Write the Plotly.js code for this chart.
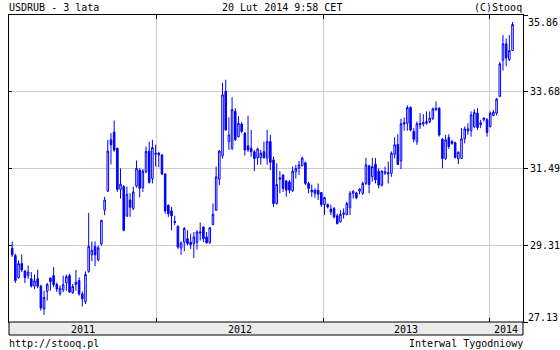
<!DOCTYPE html>
<html>
<head>
<meta charset="utf-8">
<script src="https://cdn.plot.ly/plotly-3.0.1.min.js"></script>
<style>html,body{margin:0;padding:0;background:#fff;}#chart{width:560px;height:350px;}</style>
</head>
<body>
<div id="chart"></div>
<script>
// Weekly candles (Friday of each week), USDRUB, Feb 2011 - Feb 2014
const weeks = [
"2011-02-18","2011-02-25","2011-03-04","2011-03-11","2011-03-18","2011-03-25","2011-04-01","2011-04-08","2011-04-15","2011-04-22",
"2011-04-29","2011-05-06","2011-05-13","2011-05-20","2011-05-27","2011-06-03","2011-06-10","2011-06-17","2011-06-24","2011-07-01",
"2011-07-08","2011-07-15","2011-07-22","2011-07-29","2011-08-05","2011-08-12","2011-08-19","2011-08-26","2011-09-02","2011-09-09",
"2011-09-16","2011-09-23","2011-09-30","2011-10-07","2011-10-14","2011-10-21","2011-10-28","2011-11-04","2011-11-11","2011-11-18",
"2011-11-25","2011-12-02","2011-12-09","2011-12-16","2011-12-23","2011-12-30","2012-01-06","2012-01-13","2012-01-20","2012-01-27",
"2012-02-03","2012-02-10","2012-02-17","2012-02-24","2012-03-02","2012-03-09","2012-03-16","2012-03-23","2012-03-30","2012-04-06",
"2012-04-13","2012-04-20","2012-04-27","2012-05-04","2012-05-11","2012-05-18","2012-05-25","2012-06-01","2012-06-08","2012-06-15",
"2012-06-22","2012-06-29","2012-07-06","2012-07-13","2012-07-20","2012-07-27","2012-08-03","2012-08-10","2012-08-17","2012-08-24",
"2012-08-31","2012-09-07","2012-09-14","2012-09-21","2012-09-28","2012-10-05","2012-10-12","2012-10-19","2012-10-26","2012-11-02",
"2012-11-09","2012-11-16","2012-11-23","2012-11-30","2012-12-07","2012-12-14","2012-12-21","2012-12-28","2013-01-04","2013-01-11",
"2013-01-18","2013-01-25","2013-02-01","2013-02-08","2013-02-15","2013-02-22","2013-03-01","2013-03-08","2013-03-15","2013-03-22",
"2013-03-29","2013-04-05","2013-04-12","2013-04-19","2013-04-26","2013-05-03","2013-05-10","2013-05-17","2013-05-24","2013-05-31",
"2013-06-07","2013-06-14","2013-06-21","2013-06-28","2013-07-05","2013-07-12","2013-07-19","2013-07-26","2013-08-02","2013-08-09",
"2013-08-16","2013-08-23","2013-08-30","2013-09-06","2013-09-13","2013-09-20","2013-09-27","2013-10-04","2013-10-11","2013-10-18",
"2013-10-25","2013-11-01","2013-11-08","2013-11-15","2013-11-22","2013-11-29","2013-12-06","2013-12-13","2013-12-20","2013-12-27",
"2014-01-03","2014-01-10","2014-01-17","2014-01-24","2014-01-31","2014-02-07","2014-02-14","2014-02-21"
];

const openVals = [
29.23,29.02,28.39,28.79,28.58,28.45,28.36,28.15,28.36,28.15,
27.50,28.00,28.38,28.45,28.20,27.93,28.05,28.24,28.45,27.96,
28.26,28.31,27.93,27.71,28.57,29.04,29.28,28.90,29.35,30.31,
30.85,32.31,32.53,32.07,30.90,30.98,30.14,30.60,30.36,31.00,
31.45,30.95,31.40,31.99,31.21,31.90,31.93,31.88,31.34,30.45,
30.29,29.99,29.85,29.23,29.40,29.50,29.40,29.36,29.40,29.66,
29.83,29.55,29.38,29.90,30.31,31.19,31.86,33.69,32.26,32.07,
33.12,32.40,32.76,32.50,32.14,32.07,31.97,31.80,31.80,31.97,
31.79,32.26,31.74,30.50,31.19,31.31,31.14,31.12,30.86,31.40,
31.50,31.58,31.66,31.07,30.88,30.88,30.88,30.81,30.47,30.47,
30.34,30.36,30.15,29.98,30.19,30.18,30.38,30.79,30.80,30.85,
30.79,31.07,31.57,31.26,31.62,31.42,31.02,31.36,31.34,31.36,
31.90,32.18,31.71,32.80,32.78,33.23,32.55,32.26,32.78,32.76,
32.78,32.83,32.91,33.16,33.21,32.33,31.78,32.38,32.26,32.23,
31.77,31.78,32.34,32.62,32.57,32.69,33.07,32.74,32.88,32.88,
32.69,33.00,33.07,33.55,34.57,35.04,34.59,34.85
];
const highVals = [
29.42,29.07,28.88,29.05,28.61,28.74,28.55,28.48,28.62,28.19,
28.02,28.24,28.40,28.69,28.25,28.17,28.45,28.48,28.50,28.21,
28.61,28.40,28.00,28.57,30.23,29.42,29.42,29.30,30.04,30.69,
32.31,32.50,32.86,32.09,31.50,31.02,30.98,30.79,30.98,31.72,
31.50,31.48,32.12,32.26,32.31,32.17,31.96,31.90,31.36,30.47,
30.40,30.15,29.88,29.42,29.83,29.74,29.64,29.69,29.74,29.96,
29.85,29.69,29.83,30.50,31.55,32.02,33.93,34.02,32.95,33.52,
33.21,32.98,32.81,32.53,33.00,32.59,32.02,32.09,32.02,32.26,
32.59,32.45,31.83,31.64,31.42,31.33,31.17,31.17,31.55,31.60,
31.71,31.83,31.69,31.12,31.04,30.93,31.07,30.83,30.69,30.50,
30.47,30.40,30.21,30.31,30.36,30.55,30.85,30.87,30.83,30.93,
31.12,31.80,31.60,31.80,31.79,31.50,31.45,31.55,31.69,31.98,
32.38,32.47,32.91,32.95,33.29,33.26,32.64,32.83,33.07,33.04,
33.12,33.12,33.23,33.40,33.24,32.36,32.45,32.47,32.31,32.26,
31.98,32.64,32.69,32.78,33.12,33.18,33.21,32.88,32.95,32.93,
33.12,33.16,33.50,34.53,35.29,35.19,35.29,35.66
];
const lowVals = [
28.98,28.24,28.36,28.55,28.24,28.36,28.11,28.07,28.09,27.45,
27.33,27.74,28.02,28.12,27.98,27.88,27.98,28.02,27.96,27.93,
28.02,27.88,27.57,27.64,28.53,28.86,28.72,28.85,29.30,30.17,
30.83,31.61,31.97,30.83,30.64,29.71,30.12,30.12,30.31,30.95,
30.67,30.83,31.36,31.07,31.07,31.55,31.53,31.31,30.21,30.12,
29.74,29.88,29.21,29.04,29.14,29.31,29.21,28.95,29.19,29.45,
29.40,29.36,29.36,29.88,30.29,31.02,31.78,32.57,32.02,32.02,
32.28,32.38,32.50,31.86,31.97,31.83,31.42,31.60,31.60,31.78,
31.60,31.45,30.40,30.47,30.79,30.83,30.69,30.79,30.83,31.21,
31.31,31.55,31.02,30.79,30.69,30.66,30.60,30.40,30.17,30.36,
30.17,30.07,29.90,29.96,30.07,30.17,30.17,30.64,30.62,30.76,
30.74,31.02,30.79,31.12,31.07,30.93,30.98,31.31,31.07,31.26,
31.78,31.60,31.48,32.57,32.57,32.55,32.24,32.17,32.62,32.69,
32.74,32.78,32.88,33.14,32.40,31.50,31.74,32.05,32.17,31.78,
31.62,31.77,32.21,32.45,32.40,32.64,32.59,32.64,32.83,32.40,
32.66,32.98,33.00,33.52,34.28,34.40,34.55,34.85
];
const closeVals = [
29.04,28.31,28.79,28.61,28.39,28.55,28.15,28.30,28.15,27.53,
27.83,28.20,28.28,28.19,28.07,28.09,28.19,28.42,27.98,28.14,
28.20,27.93,27.79,28.48,29.28,29.17,29.04,29.24,30.02,30.60,
31.99,32.17,32.02,30.90,31.05,29.74,30.76,30.39,30.83,31.50,
30.93,31.42,31.98,31.10,32.09,31.93,31.88,31.34,30.29,30.21,
30.15,29.96,29.26,29.38,29.79,29.36,29.33,29.55,29.69,29.69,
29.50,29.38,29.81,30.19,31.26,31.99,33.59,32.59,32.45,33.17,
32.31,32.78,32.55,32.02,32.02,31.97,31.78,32.05,31.93,31.80,
32.26,31.67,30.50,31.04,31.23,30.93,30.88,30.88,31.42,31.50,
31.60,31.79,31.07,30.93,30.83,30.79,30.76,30.47,30.67,30.40,
30.26,30.12,29.93,30.19,30.23,30.50,30.79,30.85,30.66,30.91,
31.07,31.60,31.04,31.55,31.17,31.02,31.42,31.40,31.38,31.93,
32.17,31.61,32.77,32.76,33.23,32.59,32.33,32.77,32.74,32.80,
32.83,32.93,33.19,33.21,32.45,31.78,32.31,32.12,32.21,31.81,
31.96,32.34,32.62,32.57,33.02,33.09,32.66,32.80,32.93,32.52,
33.07,33.10,33.47,34.47,35.04,34.64,34.85,35.59
];

const yTickVals = [27.13, 29.31, 31.49, 33.68, 35.86];
const yTickText = ["27.13", "29.31", "31.49", "33.68", "35.86"];
const yearLabels = ["2011", "2012", "2013", "2014"];
const yearStarts = ["2012-01-01", "2013-01-01", "2014-01-01"];
const xRange = ["2011-02-11", "2014-03-16"];

const headerLeft = "USDRUB - 3 lata";
const headerCenter = "20 Lut 2014 9:58 CET";
const headerRight = "(C)Stooq";
const footerLeft = "http://stooq.pl";
const footerRight = "Interwal Tygodniowy";

const BLUE = "#0000ff";
const GRID = "#cccccc";
const FONT = {family: "DejaVu Sans Mono, monospace", size: 10, color: "#000000"};

const plotH = 350 - 15 - 28;

// year label centres (middle of the visible part of each year)
function midDate(a, b) {
  const ta = new Date(a + "T00:00:00Z").getTime();
  const tb = new Date(b + "T00:00:00Z").getTime();
  return new Date((ta + tb) / 2).toISOString().slice(0, 10);
}
const bounds = [xRange[0]].concat(yearStarts).concat([xRange[1]]);
const annotations = [];
yearLabels.forEach((lab, k) => {
  annotations.push({xref: "x", yref: "paper", x: midDate(bounds[k], bounds[k + 1]), y: 0,
    yanchor: "middle", xanchor: "center", yshift: -7, text: lab, showarrow: false, font: FONT});
});
// top/bottom y labels sit inside the frame height
annotations.push({xref: "paper", yref: "y", x: 1, y: yTickVals[4], xanchor: "left", yanchor: "middle",
  xshift: 3, yshift: -7, text: yTickText[4], showarrow: false, font: FONT});
annotations.push({xref: "paper", yref: "y", x: 1, y: yTickVals[0], xanchor: "left", yanchor: "middle",
  xshift: 3, yshift: 5, text: yTickText[0], showarrow: false, font: FONT});
// header and footer
annotations.push({xref: "paper", yref: "paper", x: 0, y: 1, xanchor: "left", yanchor: "middle", xshift: -2, yshift: 8,
  text: headerLeft, showarrow: false, font: FONT});
annotations.push({xref: "paper", yref: "paper", x: (282 - 9) / 514, y: 1, xanchor: "center", yanchor: "middle", yshift: 8,
  text: headerCenter, showarrow: false, font: FONT});
annotations.push({xref: "paper", yref: "paper", x: 1, y: 1, xanchor: "right", yanchor: "middle", xshift: 1, yshift: 8,
  text: headerRight, showarrow: false, font: FONT});
annotations.push({xref: "paper", yref: "paper", x: 0, y: 0, xanchor: "left", yanchor: "middle", xshift: -2, yshift: -21,
  text: footerLeft, showarrow: false, font: FONT});
annotations.push({xref: "paper", yref: "paper", x: 1, y: 0, xanchor: "right", yanchor: "middle", xshift: 2, yshift: -21,
  text: footerRight, showarrow: false, font: FONT});

const traces = [
  {
    type: "candlestick",
    x: weeks, open: openVals, high: highVals, low: lowVals, close: closeVals,
    increasing: {line: {color: BLUE, width: 1}, fillcolor: "#ffffff"},
    decreasing: {line: {color: BLUE, width: 1}, fillcolor: BLUE},
    whiskerwidth: 0,
    hoverinfo: "skip",
    showlegend: false
  },
  {type: "scatter", x: [weeks[0]], y: [null], yaxis: "y2", mode: "markers", hoverinfo: "skip", showlegend: false}
];

const layout = {
  width: 560, height: 350,
  margin: {l: 9, r: 37, t: 15, b: 28, pad: 0},
  paper_bgcolor: "#ffffff", plot_bgcolor: "#ffffff",
  font: FONT,
  showlegend: false,
  dragmode: false,
  xaxis: {
    type: "date", range: xRange,
    tickmode: "array", tickvals: yearStarts, showticklabels: false,
    showgrid: true, gridcolor: GRID, gridwidth: 1,
    ticks: "inside", ticklen: 4, tickcolor: "#000", tickwidth: 1,
    showline: true, linecolor: "#000", linewidth: 1, mirror: "ticks",
    zeroline: false, rangeslider: {visible: false}, fixedrange: true
  },
  yaxis: {
    side: "right", range: [yTickVals[0], yTickVals[4]],
    tickmode: "array", tickvals: yTickVals, ticktext: ["", yTickText[1], yTickText[2], yTickText[3], ""],
    ticks: "outside", ticklen: 4, tickcolor: "#000", tickwidth: 1,
    showgrid: true, gridcolor: GRID, gridwidth: 1,
    showline: true, linecolor: "#000", linewidth: 1, mirror: true,
    zeroline: false, fixedrange: true, tickfont: FONT
  },
  yaxis2: {
    overlaying: "y", side: "left", range: [yTickVals[0], yTickVals[4]],
    tickmode: "array", tickvals: yTickVals.slice(1, 4),
    ticks: "inside", ticklen: 3, tickcolor: "#000", showticklabels: false,
    showgrid: false, showline: false, zeroline: false, fixedrange: true
  },
  shapes: [
    {type: "rect", xref: "paper", yref: "paper", x0: 0, x1: 1, y0: -13 / plotH, y1: 0,
      fillcolor: "#ebebeb", line: {color: "#000000", width: 1}, layer: "above"}
  ],
  annotations: annotations
};

Plotly.newPlot("chart", traces, layout, {staticPlot: true, displayModeBar: false});
</script>
</body>
</html>
